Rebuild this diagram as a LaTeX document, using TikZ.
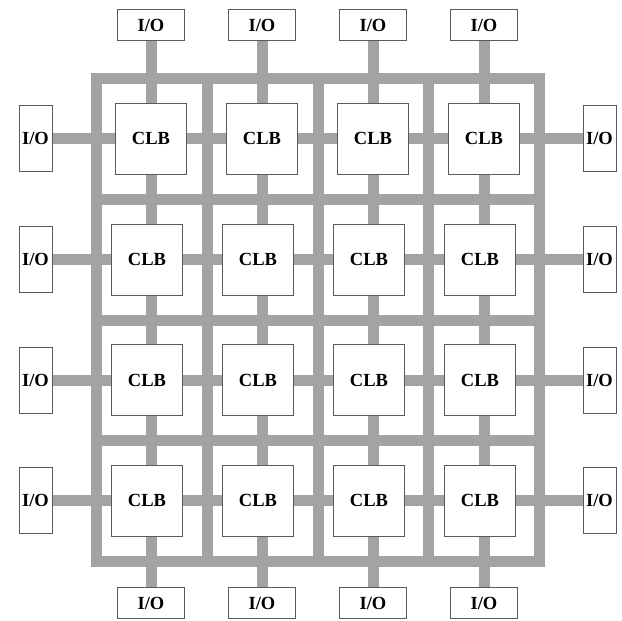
\documentclass[tikz,border=0pt]{standalone}
\usepackage{fontspec}
\setmainfont{Liberation Serif}
\usetikzlibrary{backgrounds}
\definecolor{bus}{RGB}{163,163,163}
\definecolor{edge}{RGB}{90,90,90}
\begin{document}
\begin{tikzpicture}[x=1pt,y=-1pt,
  bus/.style={draw=bus,line width=11pt},
  clb/.style={draw=edge,line width=0.8pt,fill=white,minimum width=71pt,minimum height=71pt,inner sep=0pt,font=\fontsize{18.5}{18.5}\selectfont\bfseries},
  iohor/.style={draw=edge,line width=0.8pt,fill=white,minimum width=67pt,minimum height=31pt,inner sep=0pt,font=\fontsize{18.5}{18.5}\selectfont\bfseries},
  iover/.style={draw=edge,line width=0.8pt,fill=white,minimum width=33pt,minimum height=66pt,inner sep=0pt,font=\fontsize{18.5}{18.5}\selectfont\bfseries}]
\useasboundingbox (0,0) rectangle (622,621);
% I/O blocks
\foreach \x [count=\j] in {151,262,373,484} {
  \node[iohor] (t\j) at (\x,25) {I/O};
  \node[iohor] (b\j) at (\x,603) {I/O};
}
\foreach \y [count=\i] in {138.5,259.5,380,500.5} {
  \node[iover] (l\i) at (35.5,\y) {I/O};
  \node[iover] (r\i) at (599.5,\y) {I/O};
}
% CLBs
\foreach \y/\s [count=\i] in {138.5/0,259.5/-4,380/-4,500.5/-4} {
  \foreach \x [count=\j] in {151,262,373,484} {
    \node[clb] (c\i\j) at (\x+\s,\y) {CLB};
  }
}
\begin{scope}[on background layer]
% routing frame and channels
\draw[bus,line join=miter] (96,78) rectangle (539,561);
\foreach \x in {207,318,428} \draw[bus] (\x,78) -- (\x,561);
\foreach \y in {199,320,440} \draw[bus] (96,\y) -- (539,\y);
% connections
\foreach \j in {1,...,4} \draw[bus] (t\j.south) -- (b\j.north);
\foreach \i in {1,...,4} \draw[bus] (l\i.east) -- (r\i.west);
\end{scope}
\end{tikzpicture}
\end{document}
